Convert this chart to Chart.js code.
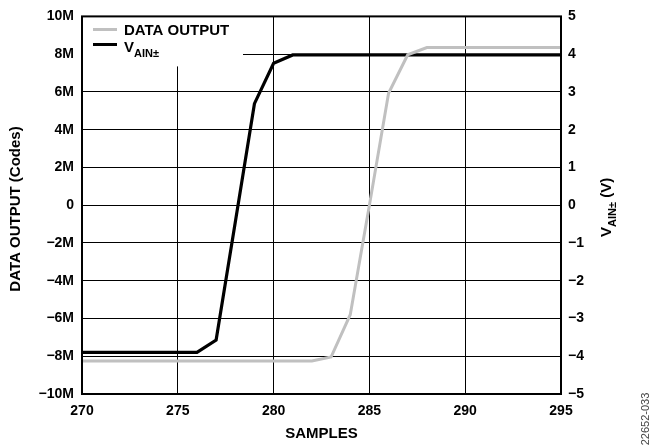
<!DOCTYPE html>
<html>
<head>
<meta charset="utf-8">
<script src="https://cdn.jsdelivr.net/npm/chart.js@4"></script>
<style>
  html, body { margin: 0; padding: 0; background: #fff; }
  #wrap { width: 652px; height: 448px; }
</style>
</head>
<body>
<div id="wrap"><canvas id="adcChart" width="652" height="448"></canvas></div>
<script>
// samples on the x axis
const samples = [270, 271, 272, 273, 274, 275, 276, 277, 278, 279, 280, 281, 282,
                 283, 284, 285, 286, 287, 288, 289, 290, 291, 292, 293, 294, 295];
// data output, in codes (millions)
const dataOutputM = [-8.25, -8.25, -8.25, -8.25, -8.25, -8.25, -8.25, -8.25, -8.25, -8.25, -8.25, -8.25, -8.25,
                     -8.04, -5.8, 0.0, 5.93, 7.97, 8.35, 8.35, 8.35, 8.35, 8.35, 8.35, 8.35, 8.35];
// VAIN± in volts
const vain = [-3.9, -3.9, -3.9, -3.9, -3.9, -3.9, -3.9, -3.57, -0.45, 2.69, 3.76, 3.98, 3.98,
              3.98, 3.98, 3.98, 3.98, 3.98, 3.98, 3.98, 3.98, 3.98, 3.98, 3.98, 3.98, 3.98];

const FONT = '"Liberation Sans", Arial, Helvetica, sans-serif';
const MINUS = '\u2212';

function codesLabel(v) {
  if (v === 0) return '0';
  return (v < 0 ? MINUS : '') + Math.abs(Math.round(v / 1e6)) + 'M';
}
function voltLabel(v) {
  if (v === 0) return '0';
  return (v < 0 ? MINUS : '') + Math.abs(v);
}

// legend, axis titles, frame (need subscripts so drawn by hand)
const decorations = {
  id: 'decorations',
  afterDraw(chart) {
    const ctx = chart.ctx;
    const a = chart.chartArea;
    ctx.save();

    // legend box
    ctx.fillStyle = '#fff';
    ctx.fillRect(a.left, a.top, 161, 50);
    ctx.lineCap = 'butt';
    ctx.lineWidth = 3;
    ctx.strokeStyle = '#c0c0c0';
    ctx.beginPath(); ctx.moveTo(a.left + 11, 29.5); ctx.lineTo(a.left + 35, 29.5); ctx.stroke();
    ctx.strokeStyle = '#000';
    ctx.beginPath(); ctx.moveTo(a.left + 11, 44.5); ctx.lineTo(a.left + 35, 44.5); ctx.stroke();

    ctx.fillStyle = '#000';
    ctx.textBaseline = 'alphabetic';
    ctx.textAlign = 'left';
    ctx.font = 'bold 15px ' + FONT;
    ctx.fillText('DATA OUTPUT', a.left + 42, 35);
    ctx.fillText('V', a.left + 42, 52);
    let vw = ctx.measureText('V').width;
    ctx.font = 'bold 11px ' + FONT;
    ctx.fillText('AIN\u00b1', a.left + 42 + vw, 57);

    // frame
    ctx.lineWidth = 2;
    ctx.strokeStyle = '#000';
    ctx.strokeRect(a.left, a.top, a.right - a.left, a.bottom - a.top);

    // left title
    ctx.save();
    ctx.translate(16, 209);
    ctx.rotate(-Math.PI / 2);
    ctx.textAlign = 'center';
    ctx.textBaseline = 'middle';
    ctx.font = 'bold 15px ' + FONT;
    ctx.fillText('DATA OUTPUT (Codes)', 0, 0);
    ctx.restore();

    // right title
    ctx.save();
    ctx.translate(611, 237);
    ctx.rotate(-Math.PI / 2);
    ctx.textAlign = 'left';
    ctx.textBaseline = 'alphabetic';
    ctx.font = 'bold 15px ' + FONT;
    ctx.fillText('V', 0, 0);
    vw = ctx.measureText('V').width;
    ctx.font = 'bold 11px ' + FONT;
    ctx.fillText('AIN\u00b1', vw, 5);
    const sw = ctx.measureText('AIN\u00b1').width;
    ctx.font = 'bold 15px ' + FONT;
    ctx.fillText(' (V)', vw + sw, 0);
    ctx.restore();

    // bottom title
    ctx.textAlign = 'center';
    ctx.textBaseline = 'middle';
    ctx.font = 'bold 15px ' + FONT;
    ctx.fillText('SAMPLES', (a.left + a.right) / 2, 434);

    // figure number
    ctx.save();
    ctx.translate(646, 419);
    ctx.rotate(-Math.PI / 2);
    ctx.fillStyle = '#444';
    ctx.font = '11px ' + FONT;
    ctx.fillText('22652-033', 0, 0);
    ctx.restore();

    ctx.restore();
  }
};

const context = document.getElementById('adcChart').getContext('2d');
new Chart(context, {
  type: 'line',
  data: {
    datasets: [
      {
        label: 'DATA OUTPUT',
        data: samples.map((s, i) => ({ x: s, y: dataOutputM[i] * 1e6 })),
        borderColor: '#c0c0c0',
        borderWidth: 3,
        pointRadius: 0,
        tension: 0,
        yAxisID: 'y'
      },
      {
        label: 'VAIN±',
        data: samples.map((s, i) => ({ x: s, y: vain[i] })),
        borderColor: '#000',
        borderWidth: 3.2,
        pointRadius: 0,
        tension: 0,
        yAxisID: 'y1'
      }
    ]
  },
  options: {
    responsive: false,
    animation: false,
    devicePixelRatio: 1,
    layout: { padding: { top: 11, left: 0, right: 0, bottom: 0 } },
    plugins: { legend: { display: false }, tooltip: { enabled: false } },
    scales: {
      x: {
        type: 'linear',
        min: 270,
        max: 295,
        ticks: { stepSize: 5, padding: 9, color: '#000', font: { family: FONT, size: 14, weight: 'bold' } },
        grid: { color: '#000', lineWidth: 1, drawTicks: false },
        border: { display: false },
        afterFit(scale) { scale.height = 54; }
      },
      y: {
        position: 'left',
        min: -10e6,
        max: 10e6,
        ticks: { stepSize: 2e6, padding: 8, color: '#000', callback: codesLabel,
                 font: { family: FONT, size: 14, weight: 'bold' } },
        grid: { color: '#000', lineWidth: 1, drawTicks: false },
        border: { display: false },
        afterFit(scale) { scale.width = 82; }
      },
      y1: {
        position: 'right',
        min: -5,
        max: 5,
        ticks: { stepSize: 1, padding: 7, color: '#000', callback: voltLabel,
                 font: { family: FONT, size: 14, weight: 'bold' } },
        grid: { drawOnChartArea: false, drawTicks: false },
        border: { display: false },
        afterFit(scale) { scale.width = 91; }
      }
    }
  },
  plugins: [decorations]
});
</script>
</body>
</html>
